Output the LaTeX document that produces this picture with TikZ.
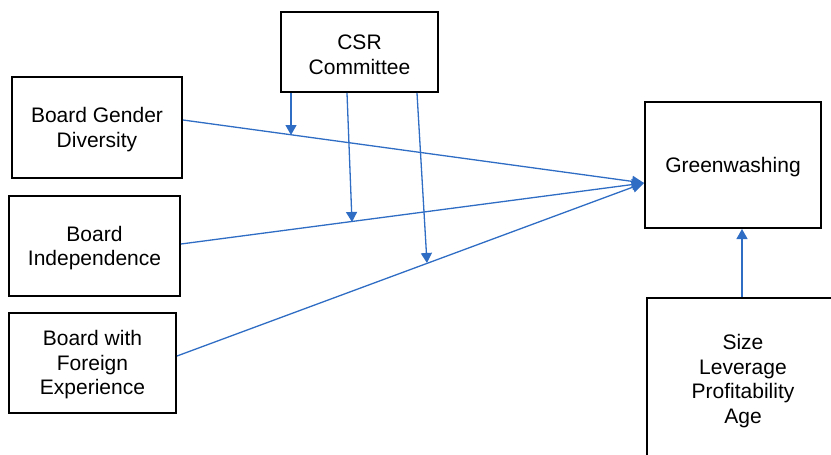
\documentclass[tikz,border=0pt]{standalone}
\usepackage{fontspec}
\setmainfont{Liberation Sans}
\usetikzlibrary{arrows.meta,calc}
\definecolor{arrowblue}{RGB}{47,109,196}
\begin{document}
\begin{tikzpicture}[x=1pt,y=-1pt,
  box/.style={draw=black,line width=2pt,fill=white,inner sep=0pt},
  txt/.style={align=center,inner sep=0pt,font=\fontsize{21}{24.5}\selectfont},
  link/.style={draw=arrowblue,line width=1.3pt,-{Triangle[length=12pt,width=11pt]}},
  modlink/.style={draw=arrowblue,line width=1.3pt,-{Triangle[length=10pt,width=11pt]}}]
\useasboundingbox (0,0) rectangle (831,455);
\begin{scope}
\clip (0,0) rectangle (831,455);
\node[box,minimum width=157pt,minimum height=80pt] (csr) at (359.5,52) {};
\node[box,minimum width=176pt,minimum height=126pt] (gw) at (733,165) {};
\node[box,minimum width=170pt,minimum height=101pt] (bgd) at (97,127.5) {};
\node[box,minimum width=171pt,minimum height=100pt] (bi) at (94.5,246) {};
\node[box,minimum width=167pt,minimum height=100pt] (bfe) at (92.5,363) {};
\node[box,minimum width=192pt,minimum height=164pt] (ctrl) at (743,380) {};

\node[txt] (csr-t) at ($(csr.center)+(0,3)$) {CSR\\Committee};
\node[txt] (gw-t) at ($(gw.center)+(0,2.5)$) {Greenwashing};
\node[txt] (bgd-t) at ($(bgd.center)+(0,2)$) {Board Gender\\Diversity};
\node[txt] (bi-t) at ($(bi.center)+(0,2)$) {Board\\Independence};
\node[txt] (bfe-t) at ($(bfe.center)+(0,2)$) {Board with\\Foreign\\Experience};
\node[txt] (ctrl-t) at ($(ctrl.center)+(0,1)$) {Size\\Leverage\\Profitability\\Age};

\coordinate (tip) at ($(gw.west)+(0,18)$);
\coordinate (s1) at ($(bgd.east)+(0,-7.5)$);
\coordinate (s2) at ($(bi.east)+(0,-2)$);
\coordinate (s3) at ($(bfe.east)+(0,-7)$);
\coordinate (m1) at (291,135);
\coordinate (m2) at (352,222);
\coordinate (m3) at (427,263);
\coordinate (c1) at ($(csr.south west)+(11,0)$);
\coordinate (c2) at ($(csr.south west)+(67,0)$);
\coordinate (c3) at ($(csr.south west)+(137,0)$);
\coordinate (k1) at ($(ctrl.north)+(-1,0)$);
\coordinate (k2) at ($(gw.south)+(9,0)$);

\draw[link] (s1) -- (tip);
\draw[link] (s2) -- (tip);
\draw[link] (s3) -- (tip);
\draw[modlink] (c1) -- (m1);
\draw[modlink] (c2) -- (m2);
\draw[modlink] (c3) -- (m3);
\draw[modlink] (k1) -- (k2);
\end{scope}
\end{tikzpicture}
\end{document}
